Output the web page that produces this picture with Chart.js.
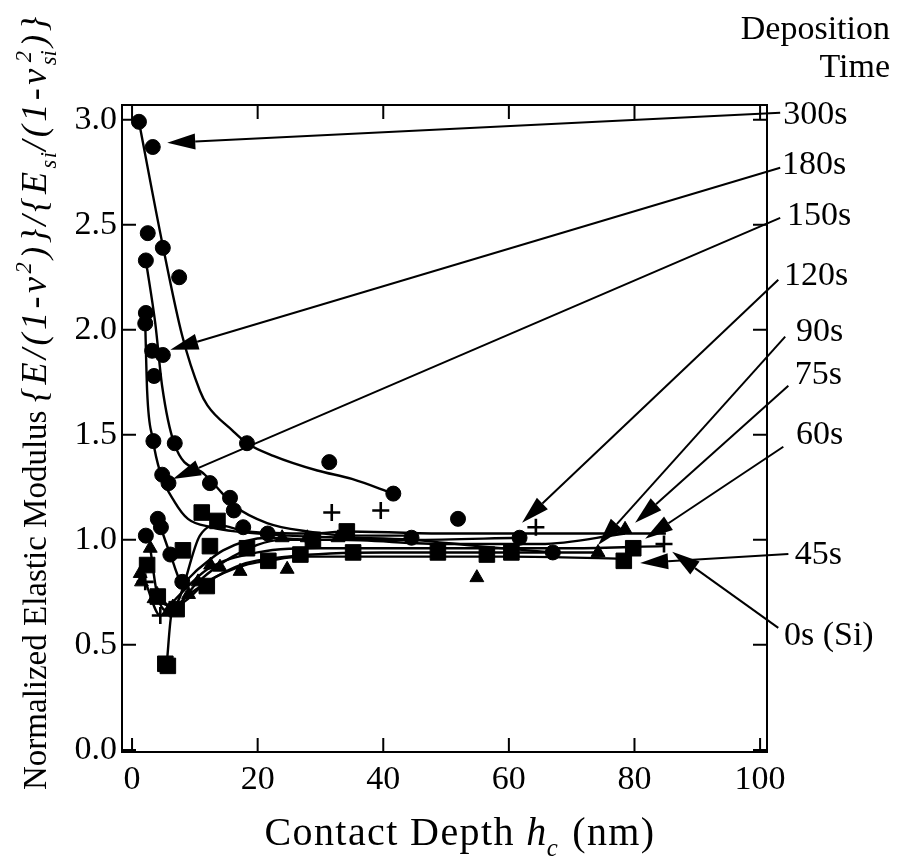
<!DOCTYPE html>
<html>
<head>
<meta charset="utf-8">
<script src="https://cdn.jsdelivr.net/npm/chart.js@4.4.0/dist/chart.umd.min.js"></script>
<style>
  html, body { margin: 0; padding: 0; background: #fff; }
</style>
</head>
<body>
<canvas id="chart" width="897" height="856"></canvas>
<script>
// ─────────────────────────────────────────────
// Normalized elastic modulus vs contact depth
// ─────────────────────────────────────────────

const FONT = '"Liberation Serif", "Times New Roman", serif';

const X_TICKS = [0, 20, 40, 60, 80, 100];
const Y_TICKS = [0, 0.5, 1.0, 1.5, 2.0, 2.5, 3.0];

// measured points  [contact depth nm, normalized modulus]
const pts300 = [[1.1,2.99],[3.3,2.87],[4.9,2.39],[7.5,2.25],[18.3,1.46],[31.4,1.37],[41.6,1.22]];
const pts180 = [[2.5,2.46],[2.2,2.33],[3.2,1.90],[4.9,1.88],[6.8,1.46],[12.4,1.27],[15.6,1.20],[16.2,1.14],[51.9,1.10]];
const pts150 = [[2.2,2.08],[2.1,2.03],[3.5,1.78],[3.4,1.47],[4.8,1.31],[5.8,1.27],[17.7,1.06],[44.5,1.01],[67.0,0.94]];
const pts120 = [[2.2,1.02],[4.1,1.10],[4.6,1.06],[6.1,0.93],[8.0,0.80],[21.6,1.03],[28.7,1.00],[61.7,1.01]];
const pts90  = [[1.3,0.84],[2.9,0.96],[4.0,0.74],[5.8,0.66],[9.0,0.74],[12.5,0.88],[17.2,0.85],[24.7,0.86],[54.9,0.82],[74.2,0.94]];
const pts75  = [[1.5,0.80],[3.5,0.72],[6.5,0.68],[10.5,0.80],[14.0,0.87],[23.9,1.01],[27.9,1.01],[32.8,1.01],[78.5,1.05]];
const pts60  = [[2.4,0.88],[4.1,0.73],[7.1,0.67],[11.1,1.13],[13.6,1.09],[18.3,0.96],[28.8,1.00],[34.2,1.04],[79.8,0.96]];
const pts45  = [[5.3,0.41],[5.7,0.40],[8.1,0.95],[12.4,0.97],[11.9,0.78],[21.7,0.90],[26.8,0.93],[35.2,0.94],[48.7,0.94],[56.5,0.93],[60.4,0.94],[78.3,0.90]];
const ptsSi  = [[2.1,0.80],[4.5,0.64],[31.8,1.13],[39.6,1.14],[64.3,1.06],[84.7,0.98]];

// trend curves drawn through each group
const fit300 = [[1.1,2.99],[4.9,2.40],[8.0,1.97],[10.8,1.71],[12.0,1.64],[16.0,1.52],[18.3,1.46],[22.5,1.40],[29.5,1.33],[35.0,1.29],[41.6,1.22]];
const fit180 = [[2.2,2.33],[3.7,2.03],[4.8,1.73],[6.7,1.46],[11.6,1.31],[13.2,1.26],[16.4,1.16],[21.5,1.08],[27.9,1.04],[34.7,1.02],[44.5,1.02]];
const fit150 = [[2.1,2.03],[2.4,1.71],[3.3,1.48],[4.5,1.32],[6.8,1.18],[8.9,1.10],[12.7,1.06],[16.4,1.04],[25.0,1.02],[34.7,1.01],[44.5,1.00],[55.0,0.97],[67.0,0.94]];
const fit120 = [[4.1,1.10],[6.1,0.93],[8.0,0.80],[10.5,0.86],[14.5,0.95],[21.6,1.01],[28.7,1.00],[44.5,1.00],[61.7,1.01]];
const fit90  = [[2.9,0.96],[4.0,0.74],[5.8,0.66],[9.0,0.74],[17.2,0.88],[24.7,0.92],[40.0,0.94],[60.0,0.94],[74.2,0.94]];
const fit75  = [[3.5,0.72],[6.5,0.68],[10.5,0.80],[16.0,0.92],[23.9,1.00],[32.8,1.00],[50.0,0.98],[65.0,0.98],[78.5,1.03]];
const fit60  = [[4.1,0.73],[6.5,0.68],[10.8,1.02],[13.7,1.07],[18.3,1.04],[28.8,1.03],[34.2,1.04],[50.0,1.03],[70.0,1.03],[85.0,1.03]];
const fit45  = [[5.5,0.40],[6.3,0.65],[8.0,0.70],[11.9,0.80],[18.0,0.88],[21.7,0.90],[27.0,0.92],[35.2,0.92],[48.7,0.92],[60.4,0.92],[78.3,0.91]];
const fitSi  = [[2.1,0.80],[4.5,0.64],[7.0,0.72],[12.0,0.86],[20.0,0.94],[30.0,0.96],[50.0,0.96],[70.0,0.96],[84.7,0.97]];

// right-hand labels with arrows (data coordinates)
const LABELS      = ["300s", "180s", "150s", "120s", "90s", "75s", "60s", "45s", "0s (Si)"];
const LABEL_AT    = [[103.7,3.024],[103.5,2.786],[104.3,2.543],[103.8,2.257],[105.7,1.99],[105.5,1.786],[105.7,1.50],[105.5,0.929],[103.8,0.543]];
const ARROW_FROM  = [[103.2,3.033],[103.2,2.771],[103.2,2.533],[102.9,2.238],[104.0,1.967],[104.5,1.733],[103.7,1.443],[104.5,0.933],[102.9,0.581]];
const ARROW_TO    = [[5.6,2.89],[6.1,1.905],[6.5,1.29],[62.1,1.081],[74.2,0.976],[80.1,1.081],[81.7,1.005],[80.9,0.89],[86.0,0.943]];

const xy = arr => arr.map(([x, y]) => ({ x, y }));

function pointSet(data, style, radius) {
    return {
        data: xy(data), showLine: false, order: 1,
        pointStyle: style, pointRadius: radius, pointHoverRadius: radius,
        backgroundColor: "#000", borderColor: "#000",
        borderWidth: style === "cross" ? 2.6 : 1,
    };
}

function curveSet(data) {
    return {
        data: xy(data), showLine: true, order: 2,
        pointRadius: 0, borderColor: "#000", borderWidth: 2.4,
        cubicInterpolationMode: "monotone", fill: false,
    };
}

// ═══════════════════════════════════════════════
// rich text helper (italics, sub/superscripts, letter spacing)
// ═══════════════════════════════════════════════
function segFont(s, size) { return (s.i ? "italic " : "") + size + "px " + FONT; }

function spaced(ctx, t, x, y, sp, draw) {
    let w = 0;
    for (const c of t) {
        if (draw) ctx.fillText(c, x + w, y);
        w += ctx.measureText(c).width + sp;
    }
    return w;
}

function rich(ctx, segs, draw, x0, y0) {
    let x = x0;
    for (const s of segs) {
        const size = s.size, sp = s.sp || 0;
        if (s.stack) {
            ctx.font = segFont(s, size * 0.62);
            const w = Math.max(...s.stack.map(t => ctx.measureText(t).width));
            if (draw) {
                ctx.fillText(s.stack[0], x, y0 + size * 0.28);
                ctx.fillText(s.stack[1], x + 3, y0 - size * 0.42);
            }
            x += w + sp;
        } else {
            const small = s.sub || s.sup;
            ctx.font = segFont(s, small ? size * 0.62 : size);
            const dy = s.sub ? size * 0.28 : s.sup ? -size * 0.42 : 0;
            x += spaced(ctx, s.t, x, y0 + dy, sp, draw);
        }
    }
    return x - x0;
}

const XT = 40, YT = 33, YF = 36;
const X_TITLE = [
    { t: "Contact Depth ", size: XT, sp: 1.4 }, { t: "h", i: true, size: XT, sp: 0.5 },
    { t: "c", i: true, sub: true, size: XT, sp: 3 }, { t: " (nm)", size: XT, sp: 1.4 }
];
const Y_TITLE = [
    { t: "Normalized Elastic Modulus ", size: YT },
    { t: "{E/(1-\u03bd", i: true, size: YF, sp: 3.5 }, { t: "2", i: true, sup: true, size: YF, sp: 3.5 },
    { t: ")}/{E", i: true, size: YF, sp: 3.5 }, { t: "si", i: true, sub: true, size: YF, sp: 1.5 },
    { t: "/(1-\u03bd", i: true, size: YF, sp: 3.5 }, { stack: ["si", "2"], i: true, size: YF, sp: 3.5 },
    { t: ")}", i: true, size: YF, sp: 3.5 }
];

const TICK = 14;
const LABEL_SIZE = 34;

const decor = {
    id: "decor",
    afterDraw(chart) {
        const { ctx, chartArea: a, scales: { x, y } } = chart;
        ctx.save();
        ctx.strokeStyle = "#000";
        ctx.fillStyle = "#000";
        ctx.lineWidth = 2;

        // frame + inward ticks on all four sides
        ctx.strokeRect(a.left, a.top, a.right - a.left, a.bottom - a.top);
        ctx.beginPath();
        X_TICKS.forEach(v => {
            const px = x.getPixelForValue(v);
            ctx.moveTo(px, a.bottom); ctx.lineTo(px, a.bottom - TICK);
            ctx.moveTo(px, a.top);    ctx.lineTo(px, a.top + TICK);
        });
        Y_TICKS.forEach(v => {
            const py = y.getPixelForValue(v);
            ctx.moveTo(a.left, py);  ctx.lineTo(a.left + TICK, py);
            ctx.moveTo(a.right, py); ctx.lineTo(a.right - TICK, py);
        });
        ctx.stroke();

        // arrows
        ARROW_FROM.forEach((from, i) => {
            const x0 = x.getPixelForValue(from[0]), y0 = y.getPixelForValue(from[1]);
            const x1 = x.getPixelForValue(ARROW_TO[i][0]), y1 = y.getPixelForValue(ARROW_TO[i][1]);
            const ang = Math.atan2(y1 - y0, x1 - x0);
            const hl = 28, hw = 8;
            const bx = x1 - hl * Math.cos(ang), by = y1 - hl * Math.sin(ang);
            ctx.lineWidth = 2;
            ctx.beginPath(); ctx.moveTo(x0, y0); ctx.lineTo(bx, by); ctx.stroke();
            ctx.beginPath();
            ctx.moveTo(x1, y1);
            ctx.lineTo(bx + hw * Math.sin(ang), by - hw * Math.cos(ang));
            ctx.lineTo(bx - hw * Math.sin(ang), by + hw * Math.cos(ang));
            ctx.closePath(); ctx.fill();
        });

        // right-hand labels
        ctx.font = LABEL_SIZE + "px " + FONT;
        ctx.textBaseline = "middle";
        ctx.textAlign = "left";
        LABELS.forEach((t, i) => {
            ctx.fillText(t, x.getPixelForValue(LABEL_AT[i][0]), y.getPixelForValue(LABEL_AT[i][1]));
        });
        ctx.textAlign = "right";
        ctx.fillText("Deposition", 890, 30);
        ctx.fillText("Time", 890, 68);

        // axis titles
        ctx.textAlign = "left";
        ctx.textBaseline = "alphabetic";
        const wx = rich(ctx, X_TITLE, false, 0, 0);
        rich(ctx, X_TITLE, true, 460 - wx / 2, 845);

        ctx.translate(35 + YT * 0.33, 790);
        ctx.rotate(-Math.PI / 2);
        rich(ctx, Y_TITLE, true, 0, 0);
        ctx.restore();
    }
};

new Chart(document.getElementById("chart"), {
    type: "scatter",
    data: {
        datasets: [
            curveSet(fit300), curveSet(fit180), curveSet(fit150), curveSet(fit120),
            curveSet(fit90), curveSet(fit75), curveSet(fit60), curveSet(fit45), curveSet(fitSi),
            pointSet(pts300, "circle", 7.5), pointSet(pts180, "circle", 7.5),
            pointSet(pts150, "circle", 7.5), pointSet(pts120, "circle", 7.5),
            pointSet(pts90, "triangle", 8), pointSet(pts75, "triangle", 8),
            pointSet(pts60, "rect", 11), pointSet(pts45, "rect", 11),
            pointSet(ptsSi, "cross", 8.5),
        ]
    },
    options: {
        responsive: false,
        animation: false,
        layout: { padding: { left: 0, right: 130, top: 105, bottom: 0 } },
        plugins: { legend: { display: false }, tooltip: { enabled: false } },
        scales: {
            x: {
                type: "linear", min: -1.6, max: 101.1,
                grid: { display: false, drawTicks: false }, border: { display: false },
                ticks: { font: { family: FONT, size: 34 }, color: "#000", padding: 8, maxRotation: 0 },
                afterBuildTicks: s => { s.ticks = X_TICKS.map(v => ({ value: v })); },
                afterFit: s => { s.height = 104; }
            },
            y: {
                type: "linear", min: -0.01, max: 3.07,
                grid: { display: false, drawTicks: false }, border: { display: false },
                ticks: { font: { family: FONT, size: 34 }, color: "#000", padding: 5,
                         callback: v => Number(v).toFixed(1) },
                afterBuildTicks: s => { s.ticks = Y_TICKS.map(v => ({ value: v })); },
                afterFit: s => { s.width = 122; }
            }
        }
    },
    plugins: [decor]
});
</script>
</body>
</html>
